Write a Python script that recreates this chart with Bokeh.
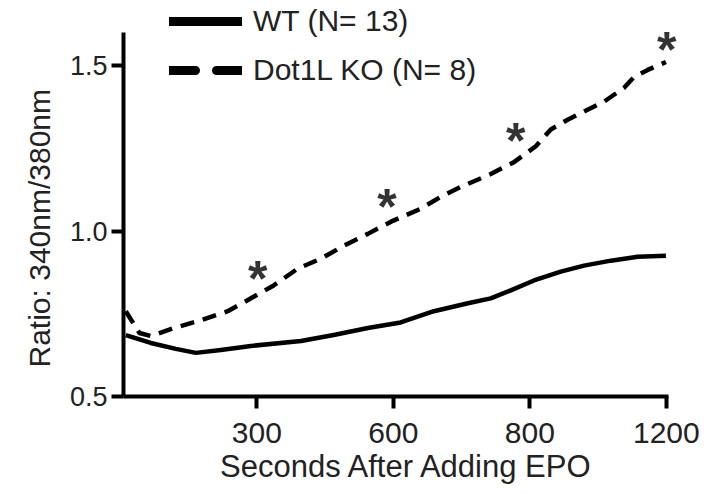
from bokeh.plotting import figure
from bokeh.models import Range1d, Legend, LegendItem, FixedTicker, Title
from bokeh.core.properties import value
from bokeh.embed import file_html
from bokeh.resources import INLINE

# ---- data ----
wt_x = [12, 67, 122, 166, 221, 287, 397, 469, 544, 616, 689, 764, 814, 858, 909, 968, 1019, 1078, 1137, 1199]
wt_y = [0.686, 0.662, 0.644, 0.632, 0.641, 0.653, 0.668, 0.686, 0.707, 0.724, 0.758, 0.782, 0.797, 0.821,
        0.851, 0.878, 0.896, 0.911, 0.923, 0.926]

ko_x = [12, 42, 67, 118, 177, 236, 287, 337, 390, 441, 491, 544, 595, 660, 704, 748, 814, 865, 913, 946,
        984, 1019, 1063, 1107, 1129, 1159, 1199]
ko_y = [0.758, 0.692, 0.683, 0.707, 0.731, 0.758, 0.797, 0.836, 0.887, 0.917, 0.956, 0.992, 1.029, 1.068,
        1.104, 1.134, 1.173, 1.209, 1.257, 1.308, 1.338, 1.362, 1.392, 1.434, 1.467, 1.488, 1.512]

star_x = [302, 586, 869, 1201]
star_y = [0.887, 1.104, 1.302, 1.578]

x_ticks = [300, 600, 900, 1200]
x_tick_labels = ["300", "600", "800", "1200"]
y_ticks = [0.5, 1.0, 1.5]
y_tick_labels = ["0.5", "1.0", "1.5"]
x_axis_span = (7, 1205)
y_axis_span = (0.5, 1.6)

series_names = ["WT (N= 13)", "Dot1L KO (N= 8)"]
x_title = "Seconds After Adding EPO"
y_title = "Ratio:  340nm/380nm"

FONT = "Liberation Sans"
TXT = "#222222"
NAN = float("nan")

p = figure(width=700, height=486, output_backend="svg", toolbar_location=None, title=None,
           x_range=Range1d(7, 1253), y_range=Range1d(0.5, 1.692),
           min_border_left=123, min_border_right=10, min_border_top=2, min_border_bottom=87)

p.outline_line_color = None
p.grid.visible = False
p.background_fill_color = "white"
p.border_fill_color = "white"

# axes
for ax in (p.xaxis[0], p.yaxis[0]):
    ax.axis_line_width = 4
    ax.axis_line_color = "black"
    ax.major_tick_line_width = 4
    ax.major_tick_line_color = "black"
    ax.major_tick_out = 12
    ax.major_tick_in = 0
    ax.minor_tick_line_color = None
    ax.major_label_text_font = FONT
    ax.major_label_text_color = TXT
    ax.axis_label_text_font = FONT
    ax.axis_label_text_font_size = "31px"
    ax.axis_label_text_font_style = "normal"
    ax.axis_label_text_color = TXT

p.xaxis.bounds = x_axis_span
p.yaxis.bounds = y_axis_span
p.xaxis.major_label_text_font_size = "30px"
p.yaxis.major_label_text_font_size = "27px"
p.xaxis.ticker = FixedTicker(ticks=x_ticks)
p.xaxis.major_label_overrides = {t: l for t, l in zip(x_ticks, x_tick_labels)}
p.yaxis.ticker = FixedTicker(ticks=y_ticks)
p.yaxis.major_label_overrides = {t: l for t, l in zip(y_ticks, y_tick_labels)}
p.xaxis.major_label_standoff = 14
p.yaxis.major_label_standoff = 4
p.xaxis.axis_label = x_title
p.xaxis.axis_label_standoff = 3

# y-axis title (as a side title so that it can sit lower, like the reference)
p.add_layout(Title(text=y_title, align="left", offset=29, standoff=22,
                   text_font=FONT, text_font_size="30px", text_font_style="normal",
                   text_color=TXT), "left")

# data lines
p.line(wt_x, wt_y, line_color="black", line_width=4.5, line_join="round")
p.line(ko_x, ko_y, line_color="black", line_width=4.5, line_dash="14 9", line_join="round")

# significance stars
p.text(star_x, star_y, text=["*"] * len(star_x), text_font=value(FONT), text_font_size="50px",
       text_font_style="bold", text_color="#333333", text_align="center", text_baseline="middle",
       y_offset=10)

# legend entries (thicker lines, drawn nowhere in the plot)
leg_wt = p.line([NAN, NAN], [NAN, NAN], line_color="black", line_width=9, line_cap="round")
leg_ko = p.line([NAN, NAN], [NAN, NAN], line_color="black", line_width=9, line_cap="round",
                line_dash="26 21")

legend = Legend(items=[LegendItem(label=series_names[0], renderers=[leg_wt]),
                       LegendItem(label=series_names[1], renderers=[leg_ko])],
                location=(46, 309), orientation="vertical",
                glyph_width=73, glyph_height=32, label_height=32, spacing=15,
                label_standoff=11, padding=0, margin=0,
                label_text_font=FONT, label_text_font_size="30px", label_text_color=TXT,
                border_line_color=None, background_fill_alpha=0)
p.add_layout(legend, "center")

open("out.html", "w").write(file_html(p, INLINE))
